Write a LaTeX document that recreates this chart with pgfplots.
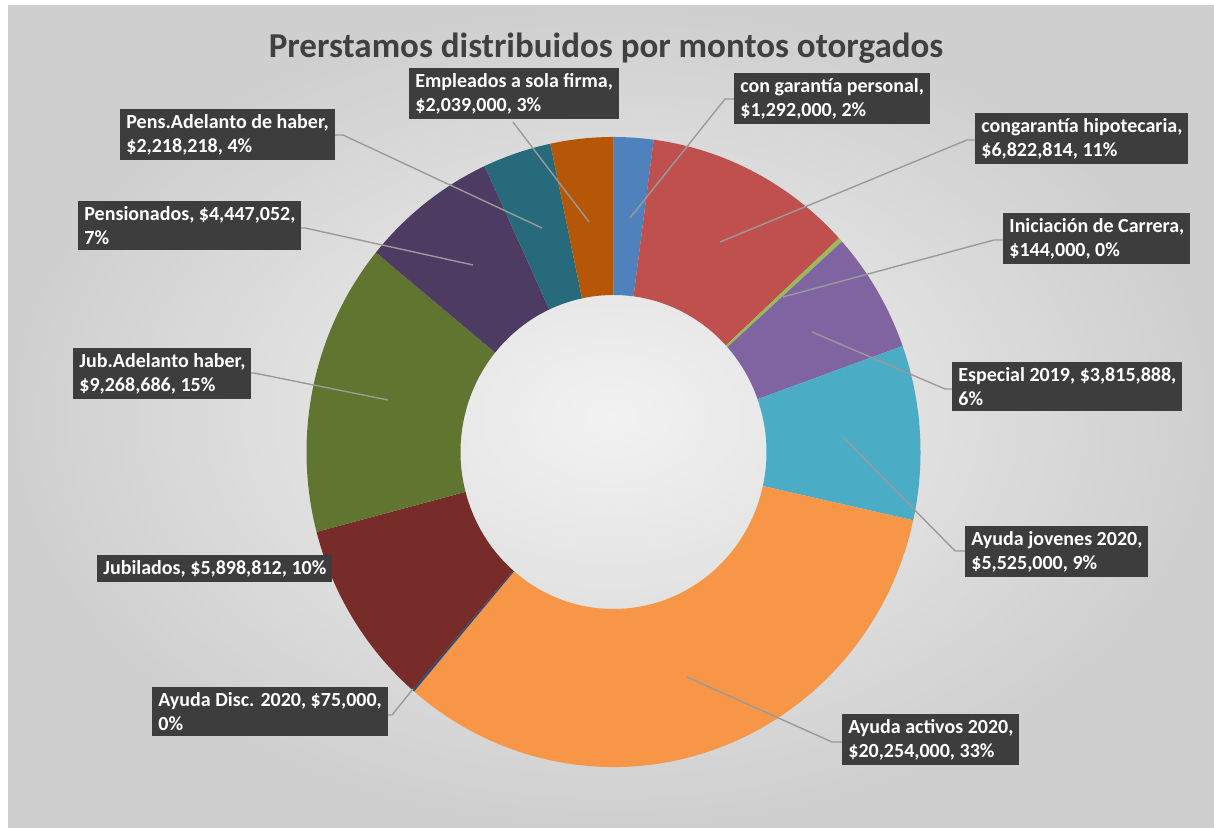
\documentclass[border=0pt]{standalone}
\usepackage{pgfplots}
\pgfplotsset{compat=1.18}
\usepackage{pgfplotstable}
\usepackage{fontspec}
\setmainfont{Carlito}

\definecolor{s1}{HTML}{4F81BD}
\definecolor{s2}{HTML}{C0504D}
\definecolor{s3}{HTML}{9BBB59}
\definecolor{s4}{HTML}{8064A2}
\definecolor{s5}{HTML}{4BACC6}
\definecolor{s6}{HTML}{F79646}
\definecolor{s7}{HTML}{2C4D75}
\definecolor{s8}{HTML}{772C2A}
\definecolor{s9}{HTML}{5F7530}
\definecolor{s10}{HTML}{4D3B62}
\definecolor{s11}{HTML}{276A7C}
\definecolor{s12}{HTML}{B65708}
\definecolor{lblbg}{HTML}{3D3D3D}
\definecolor{leadgray}{HTML}{9A9A9A}
\definecolor{titlegray}{HTML}{404040}
\definecolor{bgin}{HTML}{F2F2F2}
\definecolor{bgout}{HTML}{CFCFCF}

% montos otorgados, en el orden del anillo (desde arriba, sentido horario)
\pgfplotstableread{
val col
1292000 s1
6822814 s2
144000 s3
3815888 s4
5525000 s5
20254000 s6
75000 s7
5898812 s8
9268686 s9
4447052 s10
2218218 s11
2039000 s12
}\loans

% centre and radii in axis units (1 unit = 0.5pt)
\def\cx{613.5}
\def\cy{376}
\def\Rox{307}\def\Roy{315}
\def\Rix{153}\def\Riy{157}

\begin{document}
\begin{tikzpicture}[
  lbl/.style={fill=lblbg, text=white, font=\fontsize{10}{12}\selectfont\bfseries,
    align=left, inner xsep=3pt, inner ysep=2.5pt, anchor=north west},
  lead/.style={draw=leadgray, line width=0.7pt}]
\begin{axis}[x=0.5pt, y=0.5pt, xmin=0, xmax=1214, ymin=0, ymax=828,
  hide axis, clip=false]
\fill[white] (axis cs:0,0) rectangle (axis cs:1214,828);
\shade[inner color=bgin, outer color=bgout] (axis cs:8,0) rectangle (axis cs:1214,822);

\def\total{0}
\pgfplotsforeachungrouped \i in {0,...,11}{%
  \pgfplotstablegetelem{\i}{val}\of\loans
  \edef\total{\fpeval{\total+\pgfplotsretval}}%
}
\def\cum{0}
\pgfplotsforeachungrouped \i in {0,...,11}{%
  \pgfplotstablegetelem{\i}{val}\of\loans \edef\v{\pgfplotsretval}%
  \pgfplotstablegetelem{\i}{col}\of\loans \edef\c{\pgfplotsretval}%
  \edef\aa{\fpeval{90-360*\cum/\total}}%
  \edef\cum{\fpeval{\cum+\v}}%
  \edef\ab{\fpeval{90-360*\cum/\total}}%
  \edef\xa{\fpeval{\cx+\Rox*cosd(\aa)}}\edef\ya{\fpeval{\cy+\Roy*sind(\aa)}}%
  \edef\xb{\fpeval{\cx+\Rix*cosd(\ab)}}\edef\yb{\fpeval{\cy+\Riy*sind(\ab)}}%
  \edef\temp{\noexpand\fill[\c] (axis cs:\xa,\ya)
    arc[start angle=\aa, end angle=\ab, x radius=\fpeval{\Rox/2}pt, y radius=\fpeval{\Roy/2}pt]
    -- (axis cs:\xb,\yb)
    arc[start angle=\ab, end angle=\aa, x radius=\fpeval{\Rix/2}pt, y radius=\fpeval{\Riy/2}pt]
    -- cycle;}%
  \temp
}

% title
\node[font=\fontsize{17.5}{21}\selectfont\bfseries, text=titlegray, anchor=base]
  at (axis cs:606,770) {Prerstamos distribuidos por montos otorgados};

% leader lines
\draw[lead] (axis cs:734,729) -- (axis cs:725,729) -- (axis cs:630,610);
\draw[lead] (axis cs:975,688) -- (axis cs:967,688) -- (axis cs:720,586);
\draw[lead] (axis cs:1003,588) -- (axis cs:994,588) -- (axis cs:783,531);
\draw[lead] (axis cs:952,439) -- (axis cs:945,439) -- (axis cs:812,496);
\draw[lead] (axis cs:965,277) -- (axis cs:955,277) -- (axis cs:843,391);
\draw[lead] (axis cs:842,86) -- (axis cs:832,86) -- (axis cs:687,151);
\draw[lead] (axis cs:382,113) -- (axis cs:392,113) -- (axis cs:413,139);
\draw[lead] (axis cs:249,455) -- (axis cs:254,455) -- (axis cs:388,428);
\draw[lead] (axis cs:299,600) -- (axis cs:305,600) -- (axis cs:473,563);
\draw[lead] (axis cs:333,693) -- (axis cs:343,693) -- (axis cs:542,600);
\draw[lead] (axis cs:513,706) -- (axis cs:589,606);

% data labels
\node[lbl] at (axis cs:734,755) {con garantía personal,\\\$1,292,000, 2\%};
\node[lbl] at (axis cs:975,715) {congarantía hipotecaria,\\\$6,822,814, 11\%};
\node[lbl] at (axis cs:1003,615) {Iniciación de Carrera,\\\$144,000, 0\%};
\node[lbl] at (axis cs:952,466) {Especial 2019, \$3,815,888,\\6\%};
\node[lbl] at (axis cs:965,302) {Ayuda jovenes 2020,\\\$5,525,000, 9\%};
\node[lbl] at (axis cs:842,114) {Ayuda activos 2020,\\\$20,254,000, 33\%};
\node[lbl] at (axis cs:152,141) {Ayuda Disc. 2020, \$75,000,\\0\%};
\node[lbl] at (axis cs:97,273) {Jubilados, \$5,898,812, 10\%};
\node[lbl] at (axis cs:73,480) {Jub.Adelanto haber,\\\$9,268,686, 15\%};
\node[lbl] at (axis cs:78,627) {Pensionados, \$4,447,052,\\7\%};
\node[lbl] at (axis cs:120,719) {Pens.Adelanto de haber,\\\$2,218,218, 4\%};
\node[lbl] at (axis cs:409,760) {Empleados a sola firma,\\\$2,039,000, 3\%};
\end{axis}
\end{tikzpicture}
\end{document}
